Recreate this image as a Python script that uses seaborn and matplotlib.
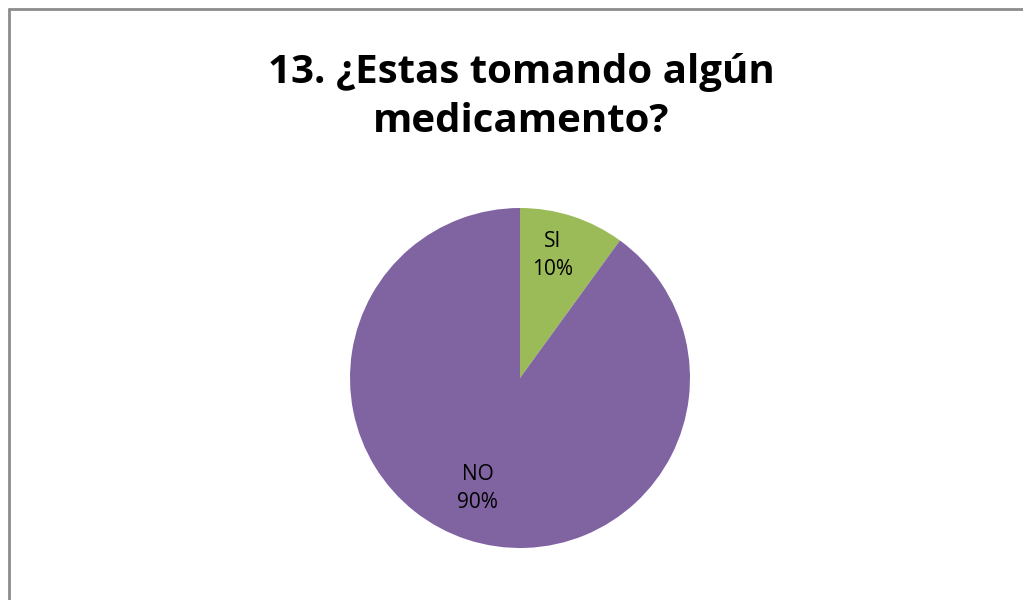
import matplotlib
matplotlib.use('Agg')
import matplotlib.pyplot as plt
from matplotlib.lines import Line2D
import seaborn as sns

# Survey answers
categories = ['SI', 'NO']
percentages = [10, 90]
colors = ['#9BBB59', '#8064A2']
title = '13. ¿Estas tomando algún\nmedicamento?'

sns.set_theme(style='white')
plt.rcParams['font.family'] = ['Open Sans', 'DejaVu Sans']

fig = plt.figure(figsize=(10.23, 6), dpi=100)

# chart area border: only the top and left edges show in the original
bx, by = 8.5 / 1023, 1 - 8.5 / 600
fig.add_artist(Line2D([bx, 1.0], [by, by], transform=fig.transFigure,
                      color='#8c8c8c', linewidth=2))
fig.add_artist(Line2D([bx, bx], [0.0, by], transform=fig.transFigure,
                      color='#8c8c8c', linewidth=2))

ax = fig.add_axes([350 / 1023, 52 / 600, 340 / 1023, 340 / 600])
wedges, texts = ax.pie(percentages, colors=colors, startangle=90,
                       counterclock=False, radius=1.0,
                       wedgeprops=dict(linewidth=0))
ax.set_xlim(-1, 1)
ax.set_ylim(-1, 1)
ax.set_aspect('equal')

label_pos = [(0.19, 0.72), (-0.25, -0.65)]
for cat, pct, (x, y) in zip(categories, percentages, label_pos):
    ax.text(x, y, f'{cat}\n{pct}%', ha='center', va='center',
            fontsize=15, linespacing=1.45, color='black')

fig.text(521 / 1023, 1 - 97 / 600, title, ha='center', va='center',
         fontsize=29, fontweight='bold', linespacing=1.32, color='black')

fig.savefig('out.png', dpi=100)
